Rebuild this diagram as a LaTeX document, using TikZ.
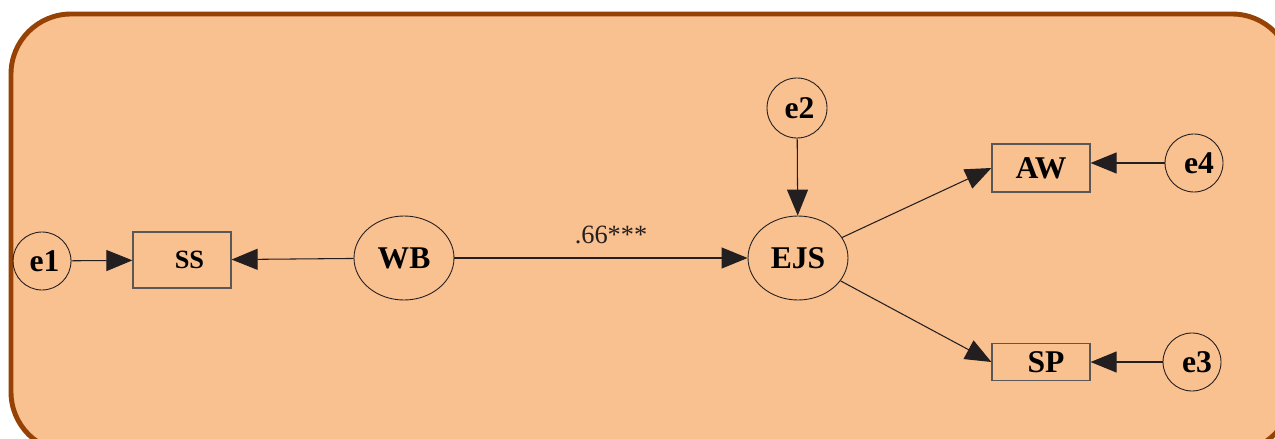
\documentclass[tikz,border=0pt]{standalone}
\usepackage{fontspec}
\setmainfont{Liberation Serif}
\usetikzlibrary{shapes.geometric,arrows.meta}
\definecolor{panel}{RGB}{249,192,144}
\definecolor{rim}{RGB}{150,66,4}
\definecolor{ink}{RGB}{35,31,32}
\newcommand{\drawpath}{\draw[ink,line width=0.6pt,-{Triangle[length=0.52cm,width=0.42cm]}]}
\newcommand{\bigbold}{\fontsize{18}{20}\selectfont\bfseries}
\tikzset{
  err/.style={circle,draw=ink,line width=0.5pt,minimum size=1.16cm,inner sep=0pt,font=\bigbold},
  latent/.style={ellipse,draw=ink,line width=0.5pt,minimum width=2cm,minimum height=1.68cm,inner sep=0pt,font=\bigbold},
  observed/.style={rectangle,draw=ink!75,line width=0.7pt,minimum width=1.96cm,inner sep=0pt,font=\bigbold}
}

\begin{document}
\begin{tikzpicture}[x=0.02cm,y=-0.02cm]
\useasboundingbox (0,0) rectangle (1275,439);
\draw[rim,fill=panel,line width=2.8pt,rounded corners=1.2cm] (11,14) rectangle (1292,452);
% constructs
\node[latent] (WB) at (404,258) {WB};
\node[latent] (EJS) at (798,258) {EJS};
% indicators
\node[observed,minimum height=1.12cm,font=\fontsize{15}{17}\selectfont\bfseries] (SS) at (182,260) {\hspace{0.3cm}SS};
\node[observed,minimum height=0.96cm] (AW) at (1041,168) {AW};
\node[observed,minimum height=0.74cm] (SP) at (1041,362) {\hspace{0.2cm}SP};
% error terms
\node[err] (e1) at (42,261) {\hspace{0.1cm}e1};
\node[err,minimum size=1.2cm] (e2) at (797,108) {\hspace{0.1cm}e2};
\node[err,minimum size=1.16cm] (e4) at (1194,163) {\hspace{0.2cm}e4};
\node[err] (e3) at (1192,362) {\hspace{0.2cm}e3};
% paths
\drawpath (e1) -- (SS);
\drawpath (WB) -- (SS);
\drawpath (WB) -- node[above=0.16cm,xshift=0.2cm,font=\fontsize{15}{17}\selectfont] (coef) {.66***} (EJS);
\drawpath (e2) -- (EJS);
\drawpath (EJS) -- (AW.west);
\drawpath (EJS) -- (SP.west);
\drawpath (e4) -- (e4 -| AW.east);
\drawpath (e3) -- (SP);
\end{tikzpicture}
\end{document}
